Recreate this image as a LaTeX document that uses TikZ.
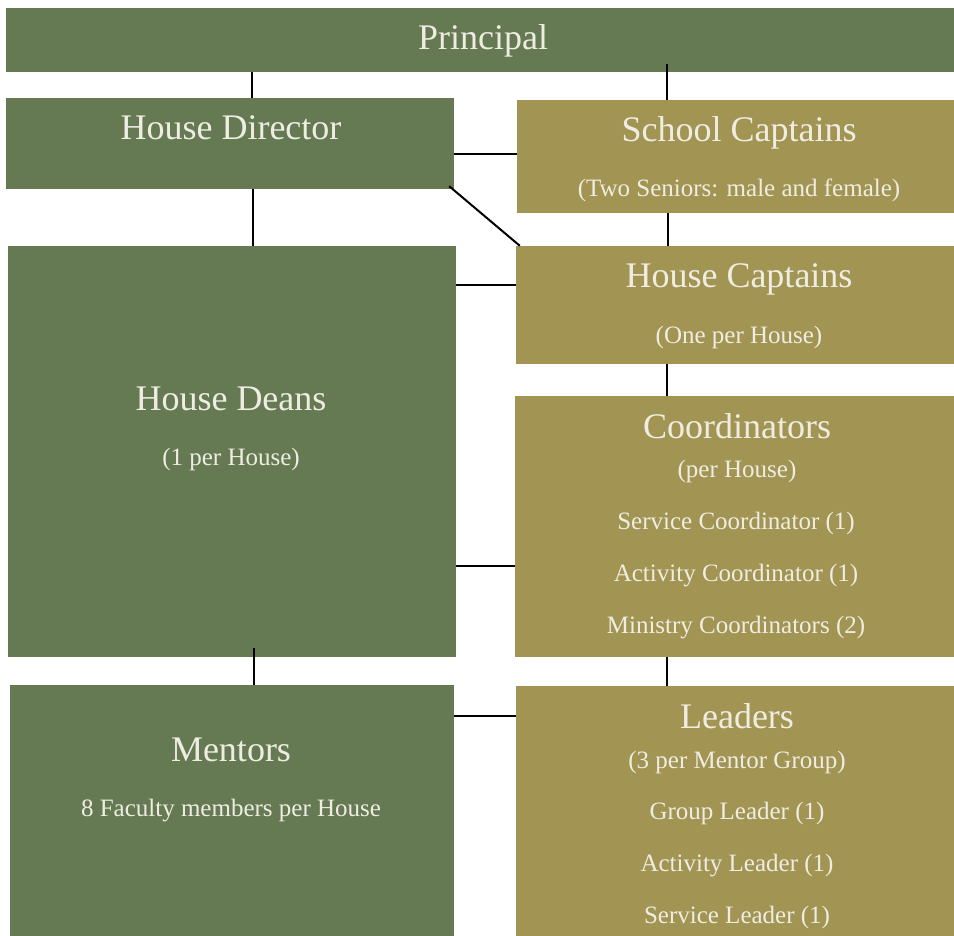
\documentclass[tikz,border=0pt]{standalone}
\usepackage{fontspec}
\setmainfont{Liberation Serif}
\definecolor{hgreen}{HTML}{657A53}
\definecolor{holive}{HTML}{A29553}
\definecolor{hcream}{HTML}{EFEDE2}

\begin{document}
\begin{tikzpicture}[x=1pt,y=-1pt,
    gbox/.style={fill=hgreen, inner sep=0pt},
    obox/.style={fill=holive, inner sep=0pt},
    ttl/.style={anchor=base, text=hcream, font=\fontsize{36}{40}\selectfont},
    sub/.style={anchor=base, text=hcream, font=\fontsize{25}{30}\selectfont},
    link/.style={line width=2pt, black}]
    \useasboundingbox (0,0) rectangle (954,936);
    % boxes
    \node[gbox, minimum width=948pt, minimum height=64pt](prin) at (480,40){};
    \node[gbox, minimum width=448pt, minimum height=91pt](dir) at (230,143.5){};
    \node[obox, minimum width=437pt, minimum height=113pt](scap) at (735.5,156.5){};
    \node[obox, minimum width=438pt, minimum height=118pt](hcap) at (735,305){};
    \node[gbox, minimum width=448pt, minimum height=411pt](deans) at (232,451.5){};
    \node[obox, minimum width=439pt, minimum height=261pt](coord) at (734.5,526.5){};
    \node[gbox, minimum width=444pt, minimum height=251pt](ment) at (232,810.5){};
    \node[obox, minimum width=438pt, minimum height=250pt](lead) at (735,811){};
    % texts
    \node[ttl](tprin) at (483,50){Principal};
    \node[ttl](tdir) at (231,140){House Director};
    \node[ttl](tscap) at (739,142){School Captains};
    \node[sub](sscap) at (739,197){(Two Seniors: male and female)};
    \node[ttl](thcap) at (739,288){House Captains};
    \node[sub](shcap) at (739,344){(One per House)};
    \node[ttl](tdeans) at (231,410){House Deans};
    \node[sub](sdeans) at (231,465){(1 per House)};
    \node[ttl](tcoord) at (737,438){Coordinators};
    \node[sub](scoord) at (737,477){(per House)};
    \node[sub](scoord1) at (736,529){Service Coordinator (1)};
    \node[sub](scoord2) at (736,581){Activity Coordinator (1)};
    \node[sub](scoord3) at (736,633){Ministry Coordinators (2)};
    \node[ttl](tment) at (231,761){Mentors};
    \node[sub](sment) at (231,816){8 Faculty members per House};
    \node[ttl](tlead) at (737,728){Leaders};
    \node[sub](slead) at (737,768){(3 per Mentor Group)};
    \node[sub](slead1) at (737,819){Group Leader (1)};
    \node[sub](slead2) at (737,871){Activity Leader (1)};
    \node[sub](slead3) at (737,923){Service Leader (1)};
    % connectors
    \draw[link](prin.south -| 252,0)--(dir.north -| 252,0);
    \draw[link]([yshift=8pt]prin.south -| 667,0)--(scap.north -| 667,0);
    \draw[link](dir.east |- 0,154)--(scap.west |- 0,154);
    \draw[link]([xshift=-5pt,yshift=3pt]dir.south east)--([xshift=4pt]hcap.north west);
    \draw[link](dir.south -| 253,0)--(deans.north -| 253,0);
    \draw[link](scap.south -| 668,0)--(hcap.north -| 668,0);
    \draw[link](deans.east |- 0,285)--(hcap.west |- 0,285);
    \draw[link](hcap.south -| 667,0)--(coord.north -| 667,0);
    \draw[link](deans.east |- 0,566)--(coord.west |- 0,566);
    \draw[link]([yshift=9pt]deans.south -| 254,0)--(ment.north -| 254,0);
    \draw[link](coord.south -| 667,0)--(lead.north -| 667,0);
    \draw[link](ment.east |- 0,716)--(lead.west |- 0,716);
\end{tikzpicture}
\end{document}
